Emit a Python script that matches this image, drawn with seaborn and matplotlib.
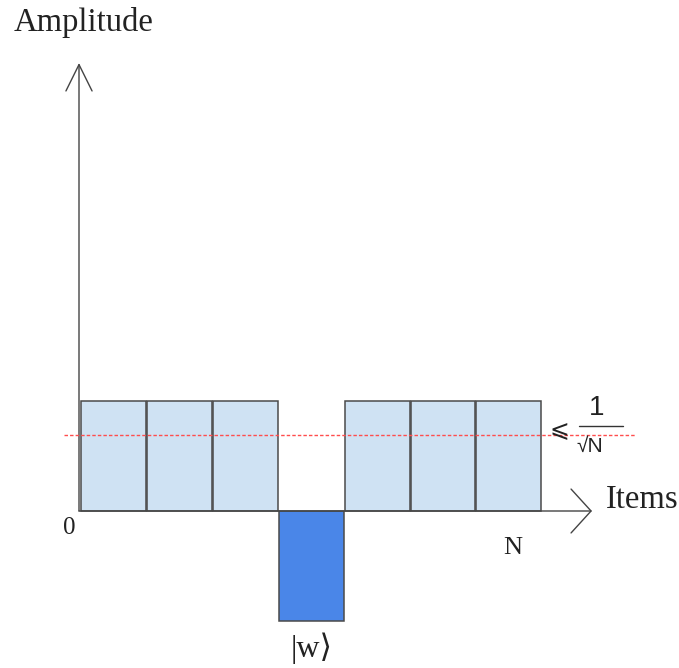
import numpy as np
import pandas as pd
import matplotlib.pyplot as plt
import seaborn as sns

# amplitudes after the oracle flips the marked item |w>
items = ["1", "2", "3", "w", "5", "6", "N"]
amplitudes = [1, 1, 1, -1, 1, 1, 1]
kind = ["other", "other", "other", "marked", "other", "other", "other"]
mean_level = 0.69

df = pd.DataFrame({"item": items, "amp": amplitudes, "kind": kind})

sns.set_style("white")
W, H = 679, 668
fig = plt.figure(figsize=(W / 100, H / 100), dpi=100)
ax = fig.add_axes([0, 0, 1, 1])

sns.barplot(data=df, x="item", y="amp", hue="kind", order=items,
            palette={"other": "#cfe2f3", "marked": "#4a86e8"},
            saturation=1, dodge=False, width=0.985, edgecolor="#4a4a4a",
            linewidth=1.1, legend=False, ax=ax)

# map pixel layout onto data units: bar pitch ~65.9 px, unit height 110 px
pitch, unit, x0, y0 = 65.9, 110.0, 113.5, 511.0
ax.set_xlim(-x0 / pitch, (W - x0) / pitch)
ax.set_ylim(-(H - y0) / unit, y0 / unit)
ax.axis("off")

# mean amplitude line
ax.hlines(mean_level, (64 - x0) / pitch, (636 - x0) / pitch,
          colors="#ff4d4d", linestyles=(0, (2.5, 1.5)), linewidth=1,
          zorder=5)

# axes drawn as open arrows
yax = (79 - x0) / pitch
ax.annotate("", xy=(yax, (y0 - 63) / unit), xytext=(yax, 0),
            arrowprops=dict(arrowstyle="->,head_length=0.95,head_width=0.47",
                            color="#444444", lw=1, mutation_scale=20,
                            shrinkA=0, shrinkB=0))
ax.annotate("", xy=((592 - x0) / pitch, 0), xytext=(yax, 0),
            arrowprops=dict(arrowstyle="->,head_length=0.72,head_width=0.79",
                            color="#444444", lw=1, mutation_scale=20,
                            shrinkA=0, shrinkB=0))

serif = ["Liberation Serif", "DejaVu Serif"]
sans = ["Liberation Sans", "DejaVu Sans"]

def label(px, py, s, size, family, **kw):
    fig.text(px / W, 1 - py / H, s, fontsize=size, family=family,
             color="#222222", **kw)

label(14, 22, "Amplitude", 23.5, serif, ha="left", va="center")
label(606, 500, "Items", 23.5, serif, ha="left", va="center")
label(69, 528, "0", 18, serif, ha="center", va="center")
label(513, 548, "N", 19, serif, ha="center", va="center")
label(312, 648, "|w\u27e9", 23, serif, ha="center", va="center")

label(559, 431, "\u2a7d", 17, sans, ha="center", va="center")
label(597, 408, "1", 20, sans, ha="center", va="center")
label(590, 446, "\u221aN", 15, sans, ha="center", va="center")
fig.add_artist(plt.Line2D([579 / W, 623 / W], [1 - 426 / H, 1 - 426 / H],
                          color="#333333", lw=1))

plt.savefig("out.png", dpi=100)
plt.close()
